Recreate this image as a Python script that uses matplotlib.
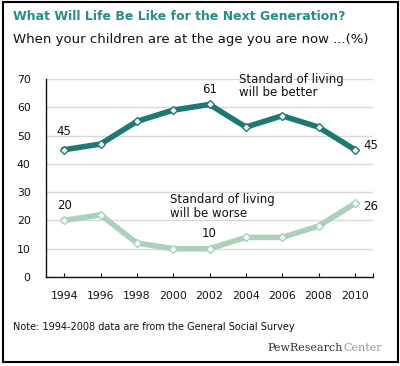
import matplotlib.pyplot as plt
from matplotlib.patches import Rectangle

years = [1994, 1996, 1998, 2000, 2002, 2004, 2006, 2008, 2010]
better = [45, 47, 55, 59, 61, 53, 57, 53, 45]
worse = [20, 22, 12, 10, 10, 14, 14, 18, 26]
y_ticks = [0, 10, 20, 30, 40, 50, 60, 70]

TEAL = "#1d7a72"
SAGE = "#abd0bb"
TITLE = "#2a8c88"
INK = "#111111"

plt.rcParams["font.family"] = ["DejaVu Sans"]

fig = plt.figure(figsize=(4.0, 3.66), dpi=100)
W, H = 400, 366
# axes: x 46..373 px, y 79..277 px
ax = fig.add_axes([46 / W, 1 - 277 / H, (373 - 46) / W, (277 - 79) / H])

ax.plot(years, better, color=TEAL, lw=4, marker="D", ms=4.5,
        mfc="white", mec=TEAL, mew=1.0, zorder=3, solid_joinstyle="round")
ax.plot(years, worse, color=SAGE, lw=4, marker="D", ms=4.5,
        mfc="white", mec=SAGE, mew=1.0, zorder=3, solid_joinstyle="round")

ax.set_xlim(1993, 2011)
ax.set_ylim(0, 70)
ax.set_yticks(y_ticks)
ax.set_xticks(years + [2011])
ax.set_xticklabels([str(y) for y in years] + [""])
ax.yaxis.grid(True, color="#d9d9d9", lw=1)
ax.set_axisbelow(True)
for s in ["top", "right"]:
    ax.spines[s].set_visible(False)
for s in ["left", "bottom"]:
    ax.spines[s].set_color(INK)
    ax.spines[s].set_linewidth(1)
ax.tick_params(axis="x", direction="in", length=3, color=INK, labelsize=7.8,
               pad=10, labelcolor=INK)
ax.tick_params(axis="y", length=0, labelsize=7.8, pad=11, labelcolor=INK)

lab = dict(fontsize=8.5, color=INK)
ax.text(years[0], better[0] + 4, "45", ha="center", va="bottom", **lab)
ax.text(years[4], better[4] + 3, "61", ha="center", va="bottom", **lab)
ax.text(years[-1] + 0.45, better[-1] + 1.5, "45", ha="left", va="center", **lab)
ax.text(years[0], worse[0] + 3, "20", ha="center", va="bottom", **lab)
ax.text(years[4], worse[4] + 3, "10", ha="center", va="bottom", **lab)
ax.text(years[-1] + 0.45, worse[-1] - 1, "26", ha="left", va="center", **lab)

ax.text(2003.65, 67.5, "Standard of living\nwill be better", ha="left",
        va="center", fontsize=8.5, color=INK, linespacing=1.05)
ax.text(1999.8, 25, "Standard of living\nwill be worse", ha="left",
        va="center", fontsize=8.5, color=INK, linespacing=1.05)

fig.text(13 / W, 1 - 16 / H, "What Will Life Be Like for the Next Generation?",
         ha="left", va="center", fontsize=9.0, fontweight="bold", color=TITLE)
fig.text(13 / W, 1 - 39 / H, "When your children are at the age you are now ...(%)",
         ha="left", va="center", fontsize=9.5, color=INK)
fig.text(13 / W, 1 - 327 / H, "Note: 1994-2008 data are from the General Social Survey",
         ha="left", va="center", fontsize=7.0, color=INK)
fig.text(343 / W, 1 - 348 / H, "PewResearch", ha="right", va="center",
         fontsize=8, color="#333333", family="DejaVu Serif")
fig.text(343 / W, 1 - 348 / H, "Center", ha="left", va="center",
         fontsize=8, color="#999999", family="DejaVu Serif")

fig.patches.append(Rectangle((2.5 / W, 1 - 362 / H), 395 / W, 360 / H,
                             transform=fig.transFigure, fill=False,
                             ec="black", lw=1.5))

fig.savefig("out.png", dpi=100)
